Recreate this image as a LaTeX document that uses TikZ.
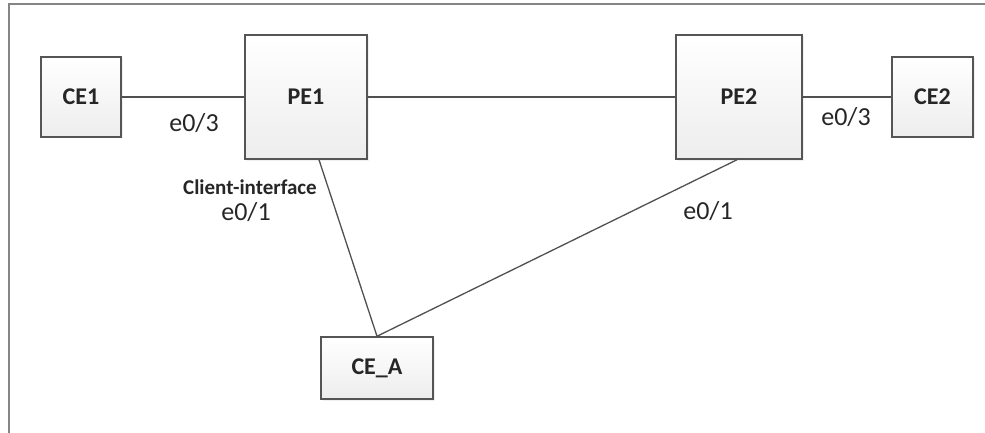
\documentclass[tikz,border=0pt]{standalone}
\usepackage{fontspec}
\setmainfont{Carlito}
\usetikzlibrary{shadows}
\definecolor{boxline}{HTML}{555555}
\definecolor{wireline}{HTML}{505050}
\definecolor{frameline}{HTML}{858585}
\definecolor{txt}{HTML}{262626}
\tikzset{
  dev/.style={draw=boxline, line width=1.5pt, rectangle, top color=white, bottom color=black!7,
    drop shadow={opacity=0.12, shadow xshift=1.5pt, shadow yshift=-1.5pt},
    text=txt, font=\fontsize{24}{28}\selectfont\bfseries, inner sep=0pt},
  wire/.style={draw=wireline, line width=1.3pt},
  port/.style={text=txt, font=\fontsize{26}{30}\selectfont, inner sep=0pt},
  note/.style={text=txt, font=\fontsize{21}{25}\selectfont\bfseries, inner sep=0pt}
}
\begin{document}
\begin{tikzpicture}[x=1pt,y=-1pt]
\useasboundingbox (0,0) rectangle (985,433);
\coordinate (fA) at (8.5,433);
\coordinate (fB) at (8.5,4.5);
\coordinate (fC) at (985,4.5);
\draw[frameline, line width=2pt] (fA) -- (fB) -- (fC);

\node[dev, minimum width=80pt, minimum height=80pt] (CE1) at (81,97) {CE1};
\node[dev, minimum width=122pt, minimum height=124pt] (PE1) at (306,97) {PE1};
\node[dev, minimum width=126pt, minimum height=124pt] (PE2) at (739,97) {PE2};
\node[dev, minimum width=81pt, minimum height=80pt] (CE2) at (932.5,97) {CE2};
\node[dev, minimum width=112pt, minimum height=62pt] (CEA) at (377,368) {CE\_A};

\draw[wire] (CE1.east) -- (PE1.west);
\draw[wire] (PE1.east) -- (PE2.west);
\draw[wire] (PE2.east) -- (CE2.west);
\draw[wire] ([xshift=13pt]PE1.south) -- (CEA.north);
\draw[wire] ([xshift=-2pt]PE2.south) -- (CEA.north);

\node[port] (l1) at (194,123) {e0/3};
\node[note] (l2) at (250,187) {Client-interface};
\node[port] (l3) at (246,212) {e0/1};
\node[port] (l4) at (846,117) {e0/3};
\node[port] (l5) at (708,211) {e0/1};
\end{tikzpicture}
\end{document}
